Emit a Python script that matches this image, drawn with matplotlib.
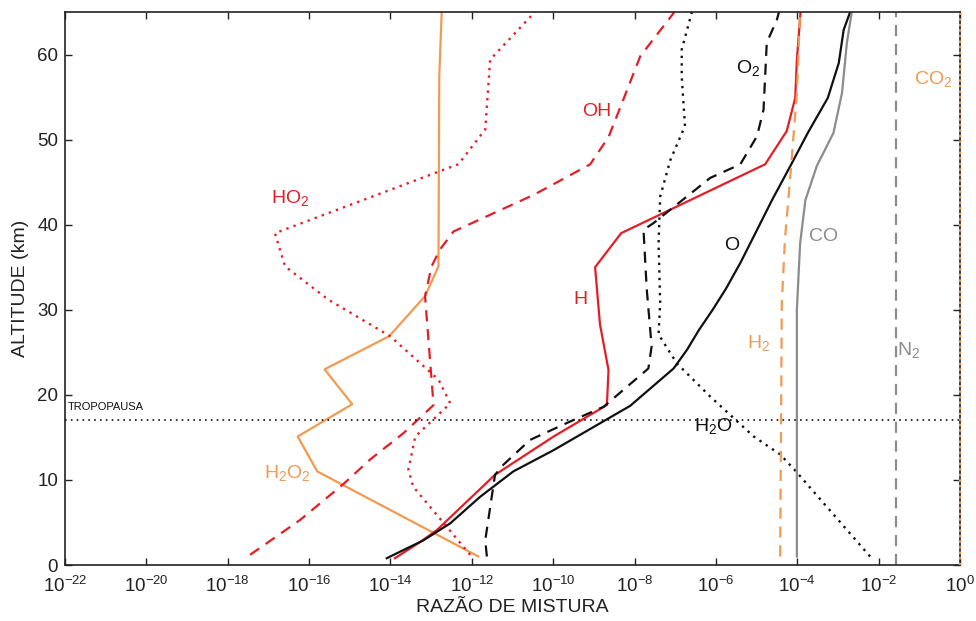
import numpy as np
import matplotlib
matplotlib.use("Agg")
import matplotlib.pyplot as plt

plt.rcParams['font.family'] = ['Liberation Sans', 'DejaVu Sans']
plt.rcParams['mathtext.default'] = 'regular'

# ---- data: altitude (km) and log10 mixing ratio ----
h2o2_alt = [1.0, 11.0, 15.1, 18.9, 23.0, 26.9, 31.6, 35.1, 57.4, 65]
h2o2_log = [-11.84, -15.80, -16.28, -14.94, -15.62, -14.03, -13.15, -12.82, -12.80, -12.74]

ho2_alt = [1.2, 9.2, 11.2, 15.1, 19.0, 21.8, 26.9, 31.2, 35.1, 39.0, 46.3, 47.1, 51.2, 59.4, 65]
ho2_log = [-12.04, -13.44, -13.56, -13.39, -12.53, -12.82, -14.01, -15.53, -16.59, -16.84,
           -12.78, -12.33, -11.67, -11.55, -10.45]

oh_alt = [1.2, 5.3, 9.5, 12.4, 15.5, 18.8, 21.8, 31.6, 35.1, 37.1, 39.2, 43.5, 47.1, 50.3,
          53.8, 59.8, 65]
oh_log = [-17.45, -16.22, -15.16, -14.50, -13.68, -12.94, -12.99, -13.15, -12.99, -12.78,
          -12.45, -10.48, -9.09, -8.64, -8.35, -7.86, -7.02]

h_alt = [0.8, 2.7, 4.1, 10.6, 15.1, 18.8, 22.9, 28.3, 35.0, 39.0, 47.1, 51.0, 54.9, 59.4, 65]
h_log = [-13.89, -13.27, -12.86, -11.43, -9.99, -8.68, -8.64, -8.85, -8.97, -8.33,
         -4.79, -4.26, -4.05, -4.01, -3.92]

o_alt = [0.8, 2.9, 4.9, 8.0, 11.0, 13.5, 18.7, 23.1, 25.3, 27.6, 30.0, 32.5, 35.5, 39.0,
         42.9, 46.9, 50.8, 54.9, 59.0, 62.9, 65]
o_log = [-14.09, -13.19, -12.53, -11.80, -10.98, -9.99, -8.11, -7.04, -6.71, -6.42, -6.08,
         -5.75, -5.40, -5.03, -4.62, -4.17, -3.74, -3.25, -2.98, -2.86, -2.70]

o2_alt = [1.0, 2.9, 10.6, 11.8, 14.7, 16.7, 18.6, 23.1, 25.7, 32.4, 39.4, 40.2, 45.5, 47.1,
          50.4, 53.5, 57.4, 61.4, 64.1, 65]
o2_log = [-11.63, -11.67, -11.43, -11.22, -10.57, -9.66, -8.76, -7.66, -7.58, -7.70, -7.78,
          -7.53, -6.14, -5.40, -4.99, -4.83, -4.79, -4.75, -4.50, -4.45]

h2o_alt = [1.0, 11.1, 13.0, 15.1, 19.8, 23.7, 27.1, 30.8, 37.8, 43.3, 47.6, 51.6, 57.4, 60.6, 65]
h2o_log = [-2.21, -4.05, -4.42, -5.07, -6.14, -6.96, -7.41, -7.37, -7.41, -7.37, -7.12,
           -6.76, -6.84, -6.84, -6.59]

h2_alt = [1.0, 30.8, 38.5, 45.7, 55.5, 65]
h2_log = [-4.42, -4.38, -4.30, -4.17, -4.01, -3.93]

co_alt = [1.0, 30.0, 37.8, 42.9, 46.9, 50.8, 55.5, 61.4, 65]
co_log = [-4.01, -4.01, -3.93, -3.80, -3.52, -3.11, -2.90, -2.78, -2.66]

n2_alt = [0, 65]
n2_log = [-1.58, -1.58]

co2_alt = [0, 65]
co2_log = [0.0, 0.0]

tropopause_alt = 17

xtick_exps = [-22, -20, -18, -16, -14, -12, -10, -8, -6, -4, -2, 0]
yticks = [0, 10, 20, 30, 40, 50, 60]

# ---- styling ----
RED = '#e41e26'
ORANGE = '#f29a52'
GREY = '#8c8c8c'
BLACK = '#111111'

fig = plt.figure(figsize=(9.76, 6.21), dpi=100)
ax = fig.add_axes([65/976, 56/621, 895/976, 553/621])

def plot(logs, alts, **kw):
    ax.plot(10.0 ** np.array(logs), alts, **kw)

lw = 1.6
plot(h2o2_log, h2o2_alt, color=ORANGE, lw=lw, ls='-')
plot(ho2_log, ho2_alt, color=RED, lw=1.7, ls=(0, (1, 2.2)))
plot(oh_log, oh_alt, color=RED, lw=lw, ls=(0, (5, 3.5)))
plot(h_log, h_alt, color=RED, lw=lw, ls='-')
plot(o_log, o_alt, color=BLACK, lw=lw, ls='-')
plot(o2_log, o2_alt, color=BLACK, lw=lw, ls=(0, (5, 3.5)))
plot(h2o_log, h2o_alt, color=BLACK, lw=1.7, ls=(0, (1, 2.2)))
plot(h2_log, h2_alt, color=ORANGE, lw=lw, ls=(0, (5, 3.5)))
plot(co_log, co_alt, color=GREY, lw=lw, ls='-')
plot(n2_log, n2_alt, color=GREY, lw=lw, ls=(0, (5, 3.5)))
ax.plot(10.0 ** np.array(co2_log), co2_alt, color=ORANGE, lw=1.6, ls=(0, (1, 1.5)),
        clip_on=False, zorder=3)

ax.axhline(tropopause_alt, color=BLACK, lw=1.2, ls=(0, (1, 2.5)))
ax.text(10.0 ** -21.93, 18.0, 'TROPOPAUSA', fontsize=8, color=BLACK, ha='left', va='bottom')

# ---- labels ----
lab_fs = 14
def lab(txt, L, alt, color):
    ax.text(10.0 ** L, alt, txt, color=color, fontsize=lab_fs, ha='center', va='center')

lab('HO$_2$', -16.47, 43.1, RED)
lab('OH', -8.94, 53.3, RED)
lab('H', -9.34, 31.2, RED)
lab('O$_2$', -5.20, 58.4, BLACK)
lab('O', -5.61, 37.6, BLACK)
lab('CO', -3.35, 38.6, GREY)
lab('H$_2$', -4.95, 26.1, ORANGE)
lab('N$_2$', -1.27, 25.3, GREY)
lab('CO$_2$', -0.66, 57.1, ORANGE)
lab('H$_2$O', -6.06, 16.3, BLACK)
lab('H$_2$O$_2$', -16.54, 10.8, ORANGE)

# ---- axes ----
ax.set_xscale('log')
ax.set_xlim(1e-22, 1)
ax.set_ylim(0, 65)
ax.set_xticks([10.0 ** e for e in xtick_exps])
ax.set_xticklabels(['$10^{%d}$' % e for e in xtick_exps])
ax.xaxis.set_minor_locator(matplotlib.ticker.NullLocator())
ax.set_yticks(yticks)
ax.set_yticklabels([str(v) for v in yticks])
ax.tick_params(axis='both', which='major', direction='in', top=True, right=True,
               length=5, width=1, labelsize=13.5, colors='#222222')
ax.tick_params(axis='x', pad=8)
ax.tick_params(axis='y', pad=5)
for s in ax.spines.values():
    s.set_linewidth(1.2)
    s.set_color('#222222')
ax.set_xlabel('RAZÃO DE MISTURA', fontsize=14, color='#222222', labelpad=2)
ax.set_ylabel('ALTITUDE (km)', fontsize=14, color='#222222', labelpad=6)

fig.savefig('out.png', dpi=100)
